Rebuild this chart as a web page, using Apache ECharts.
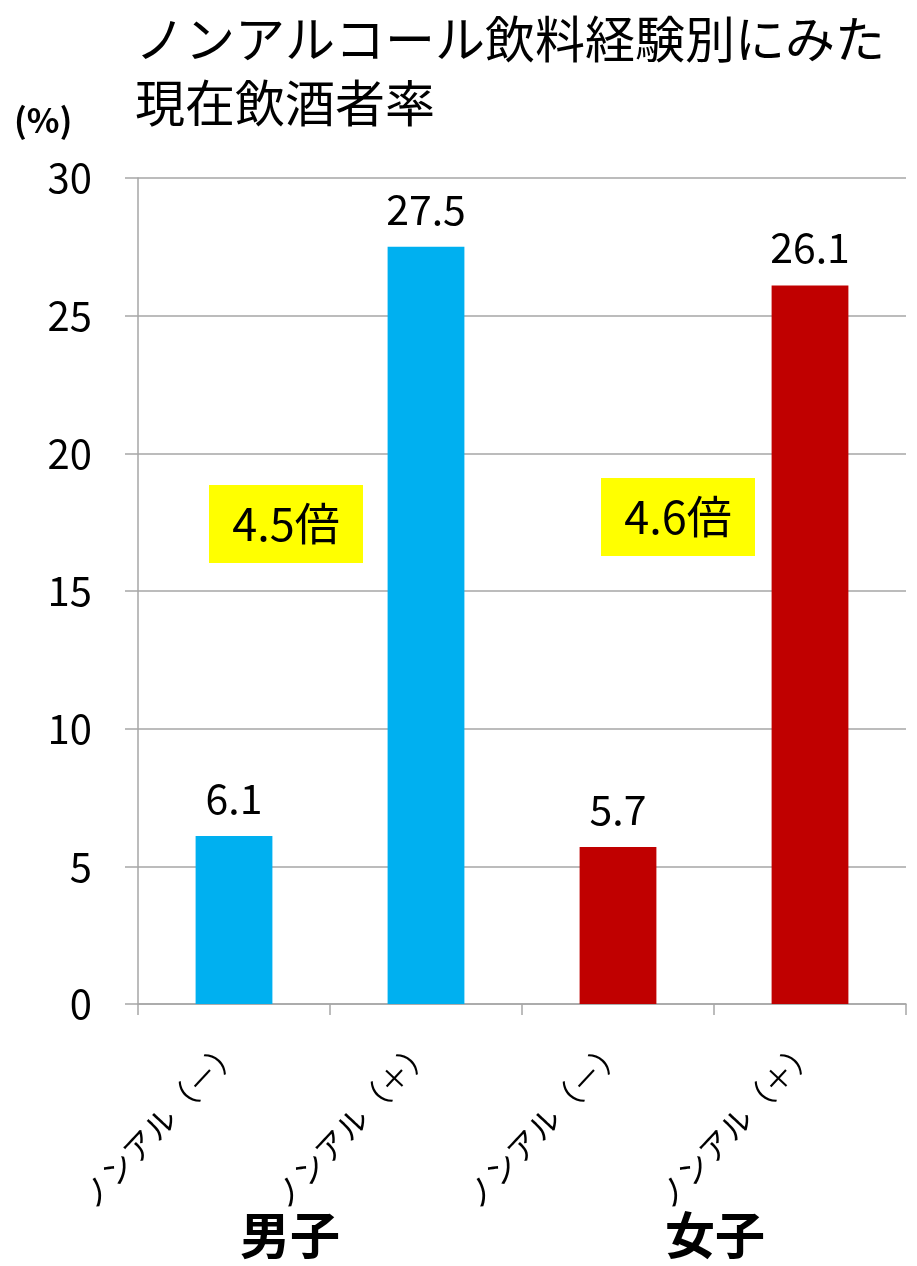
<!DOCTYPE html>
<html><head><meta charset="utf-8">
<script src="https://cdn.jsdelivr.net/npm/echarts@6/dist/echarts.min.js"></script>
<style>html,body{margin:0;padding:0;background:#fff}#c{width:917px;height:1266px}</style>
</head><body><div id="c"></div>
<script>
const categories = ['ノンアル（－）','ノンアル（＋）','ノンアル（－）','ノンアル（＋）'];
const values = [6.1, 27.5, 5.7, 26.1];
const barColors = ['#00B0F0','#00B0F0','#C00000','#C00000'];
const groups = ['男子','女子'];
const ratios = ['4.5倍','4.6倍'];
const yTicks = [0,5,10,15,20,25,30];
const F = '"Noto Sans CJK JP", sans-serif';

const chart = echarts.init(document.getElementById('c'), null, {renderer:'canvas'});
chart.setOption({
  animation:false,
  backgroundColor:'#fff',
  title:{text:'ノンアルコール飲料経験別にみた\n現在飲酒者率', left:130, top:2,
    textStyle:{fontFamily:F, fontSize:50, fontWeight:'normal', color:'#000', lineHeight:64}},
  grid:{left:138, right:11, top:178, bottom:262, containLabel:false},
  xAxis:{type:'category', data:categories,
    axisLine:{lineStyle:{color:'#A6A6A6', width:1.5}},
    axisTick:{show:true, length:11, lineStyle:{color:'#A6A6A6', width:1.5}},
    axisLabel:{rotate:47, margin:40, fontFamily:F, fontSize:31, color:'#000', interval:0}},
  yAxis:{type:'value', min:0, max:30, interval:5,
    axisLine:{show:true, lineStyle:{color:'#A6A6A6', width:1.5}},
    axisTick:{show:true, length:13, lineStyle:{color:'#A6A6A6', width:1.5}},
    splitLine:{lineStyle:{color:'#A6A6A6', width:1.5}},
    axisLabel:{margin:46, fontFamily:F, fontSize:40, color:'#000',
      formatter:v=> yTicks.includes(v)? String(v):''}},
  series:[{type:'bar', barWidth:'40%',
    data: values.map((v,i)=>({value:v, itemStyle:{color:barColors[i]}})),
    label:{show:true, position:'top', distance:17, fontFamily:F, fontSize:41, color:'#000'}}],
  graphic:[
    {type:'text', left:14, top:103, style:{text:'(%)', font:'bold 34px '+F, fill:'#000'}},
    {type:'group', left:209, top:485, children:[
      {type:'rect', shape:{x:0,y:0,width:154,height:78}, style:{fill:'#FFFF00'}},
      {type:'text', style:{x:77,y:39,text:ratios[0], font:'45px '+F, fill:'#000', textAlign:'center', textVerticalAlign:'middle'}}]},
    {type:'group', left:601, top:478, children:[
      {type:'rect', shape:{x:0,y:0,width:154,height:78}, style:{fill:'#FFFF00'}},
      {type:'text', style:{x:77,y:39,text:ratios[1], font:'45px '+F, fill:'#000', textAlign:'center', textVerticalAlign:'middle'}}]},
    {type:'text', left:240, top:1210, style:{text:groups[0], font:'bold 50px '+F, fill:'#000'}},
    {type:'text', left:665, top:1210, style:{text:groups[1], font:'bold 50px '+F, fill:'#000'}}
  ]
});
</script></body></html>
